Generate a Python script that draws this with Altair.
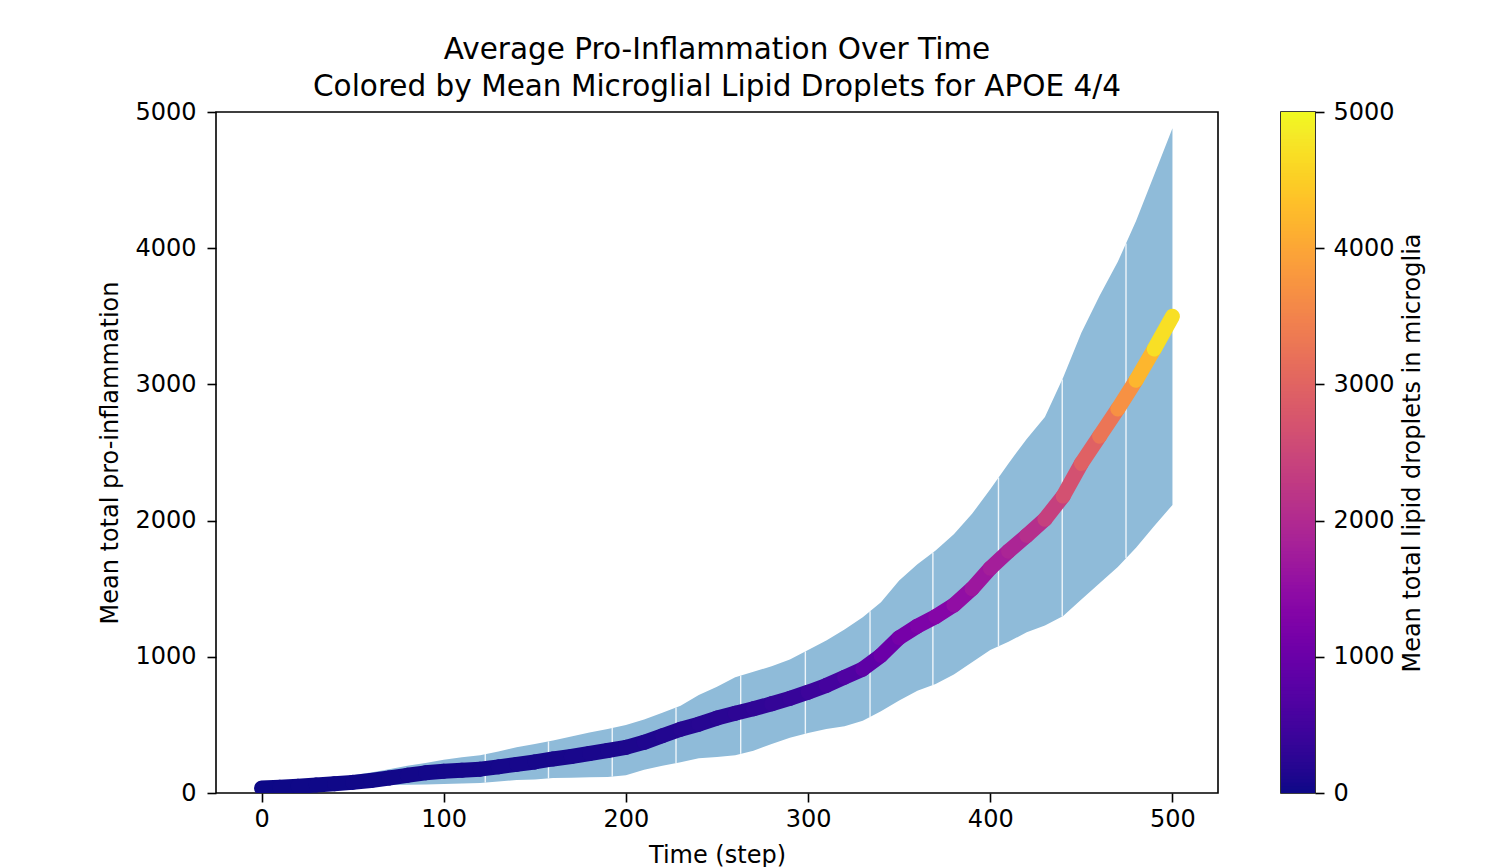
import altair as alt
import numpy as np
import pandas as pd

# ---- data ----
steps = list(range(0, 501, 10))
mean_inflam = [36, 42, 50, 58, 68, 78, 92, 110, 130, 148, 160, 167, 175, 192, 210, 228, 250, 268, 290, 312,
               335, 372, 420, 468, 505, 550, 585, 618, 655, 695, 740, 790, 850, 910, 1010, 1140, 1225, 1295,
               1380, 1500, 1650, 1775, 1890, 2010, 2180, 2420, 2620, 2820, 3030, 3260, 3500]
upper_inflam = [40, 55, 70, 90, 110, 130, 150, 175, 200, 220, 245, 262, 278, 305, 335, 360, 385, 415, 445, 470,
                500, 540, 590, 640, 720, 780, 850, 890, 930, 980, 1050, 1120, 1200, 1290, 1400, 1560, 1680, 1780,
                1900, 2050, 2230, 2420, 2600, 2760, 3050, 3380, 3650, 3900, 4200, 4540, 4880]
lower_inflam = [30, 35, 40, 40, 45, 50, 55, 58, 60, 63, 66, 70, 73, 85, 95, 100, 110, 112, 115, 117,
                130, 170, 200, 225, 255, 265, 278, 310, 360, 405, 440, 470, 490, 530, 600, 680, 750, 800,
                870, 960, 1050, 1110, 1180, 1230, 1300, 1420, 1540, 1660, 1800, 1960, 2115]
lipid = [0, 5, 10, 15, 20, 25, 30, 35, 40, 45, 50, 55, 60, 65, 70, 75, 80, 85, 90, 100,
         110, 130, 150, 175, 200, 225, 250, 285, 320, 360, 400, 480, 580, 760, 920, 1100, 1180, 1280,
         1420, 1600, 1720, 1850, 1960, 2200, 2550, 2800, 3100, 3450, 3950, 4450, 4950]
seam_steps = [122.8, 157.5, 192.5, 227.5, 263, 298.5, 334, 368.5, 404.5, 439.5, 474.5]

x_ticks = [0, 100, 200, 300, 400, 500]
y_ticks = [0, 1000, 2000, 3000, 4000, 5000]
cbar_ticks = [0, 1000, 2000, 3000, 4000, 5000]

FONT = "DejaVu Sans"
plasma = alt.Scale(scheme="plasma", domain=[0, 5000])

band_df = pd.DataFrame({"step": steps, "lo": lower_inflam, "hi": upper_inflam})
seg_df = pd.DataFrame({
    "step": steps[:-1], "step2": steps[1:],
    "m": mean_inflam[:-1], "m2": mean_inflam[1:],
    "lip": [(a + b) / 2 for a, b in zip(lipid[:-1], lipid[1:])],
})
seam_df = pd.DataFrame({
    "step": seam_steps,
    "lo": np.interp(seam_steps, steps, lower_inflam),
    "hi": np.interp(seam_steps, steps, upper_inflam),
})

xs = alt.Scale(domain=[-25, 525], nice=False, zero=False)
ys = alt.Scale(domain=[0, 5000], nice=False)

x_axis = alt.Axis(title="Time (step)", values=x_ticks, format="d", labelPadding=5, titlePadding=12)
y_axis = alt.Axis(title="Mean total pro-inflammation", values=y_ticks, format="d",
                  labelPadding=11, titlePadding=12)

band = alt.Chart(band_df).mark_area(color="#8fbbd9", opacity=1).encode(
    x=alt.X("step:Q", scale=xs, axis=x_axis),
    y=alt.Y("lo:Q", scale=ys, axis=y_axis),
    y2="hi:Q",
)

seams = alt.Chart(seam_df).mark_rule(color="white", strokeWidth=1.4, opacity=0.85).encode(
    x=alt.X("step:Q", scale=xs),
    y=alt.Y("lo:Q", scale=ys),
    y2="hi:Q",
)

line = alt.Chart(seg_df).mark_rule(strokeWidth=15, strokeCap="round", clip=True).encode(
    x=alt.X("step:Q", scale=xs),
    x2="step2:Q",
    y=alt.Y("m:Q", scale=ys),
    y2="m2:Q",
    color=alt.Color("lip:Q", scale=plasma, legend=None),
)

main = alt.layer(band, seams, line).properties(
    width=1002,
    height=681,
    title=alt.TitleParams(
        text=["Average Pro-Inflammation Over Time",
              "Colored by Mean Microglial Lipid Droplets for APOE 4/4"],
        fontSize=29.5, font=FONT, fontWeight="normal", color="black",
        lineHeight=37, anchor="middle", frame="group", offset=-2,
    ),
)

cbar_vals = list(range(0, 5000, 25))
cbar_df = pd.DataFrame({"v": cbar_vals, "v2": [min(v + 40, 5000) for v in cbar_vals],
                        "c": [v + 12.5 for v in cbar_vals]})
cbar = alt.Chart(cbar_df).mark_rect().encode(
    y=alt.Y("v:Q", scale=alt.Scale(domain=[0, 5000], nice=False),
            axis=alt.Axis(orient="right", values=cbar_ticks, format="d",
                          title="Mean total lipid droplets in microglia",
                          titleAngle=270, titleBaseline="top", labelPadding=9, titlePadding=6)),
    y2="v2:Q",
    color=alt.Color("c:Q", scale=plasma, legend=None),
).properties(width=34, height=681)

chart = alt.hconcat(main, cbar, spacing=61).resolve_scale(color="independent", y="independent").properties(
    padding={"left": 90, "top": 25, "right": 5, "bottom": 0},
).configure(font=FONT).configure_view(
    stroke="black", strokeWidth=1.6
).configure_axis(
    labelFontSize=24, titleFontSize=24, labelFont=FONT, titleFont=FONT,
    labelColor="black", titleColor="black", titleFontWeight="normal",
    tickColor="black", tickWidth=1.6, tickSize=9, grid=False, domain=False,
)

chart.save("out.html", embed_options={"renderer": "svg", "actions": False})
